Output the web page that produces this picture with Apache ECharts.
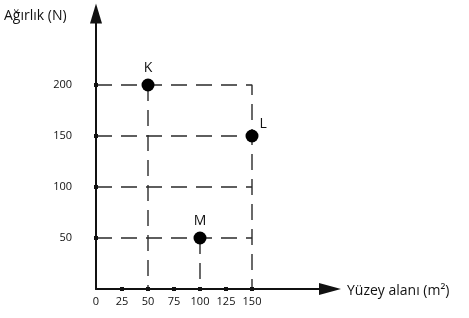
<!DOCTYPE html>
<html>
<head>
<meta charset="utf-8">
<script src="https://cdn.jsdelivr.net/npm/echarts@6/dist/echarts.min.js"></script>
<style>
  html, body { margin: 0; padding: 0; background: #fff; }
  #chart { width: 469px; height: 318px; }
</style>
</head>
<body>
<div id="chart"></div>
<script>
// tick labels / tick positions
const xTicks = [25, 50, 75, 100, 125, 150];
const yTicks = [50, 100, 150, 200];
// points: name, surface area, weight
const pointNames = ['K', 'L', 'M'];
const pointArea = [50, 150, 100];
const pointWeight = [200, 150, 50];
// dashed guide lines (polylines)
const guideLines = [
    [[0, 200], [150, 200], [150, 0]],
    [[0, 150], [150, 150]],
    [[0, 100], [150, 100]],
    [[0, 50], [150, 50]],
    [[50, 200], [50, 0]],
    [[100, 50], [100, 0]]
];

const font = '"Open Sans", "DejaVu Sans", sans-serif';
const ink = '#111';

let chart = echarts.init(document.getElementById('chart'), null, {renderer: 'canvas'});

let series = [];
guideLines.forEach(function (pts) {
    series.push({
        type: 'line',
        data: pts,
        symbol: 'none',
        silent: true,
        lineStyle: {color: '#2a2a2a', width: 1.4, type: [16, 9]},
        z: 1
    });
});
// tick marks on the axes
series.push({
    type: 'scatter',
    data: xTicks.map(v => [v, 0]).concat(yTicks.map(v => [0, v])),
    symbol: 'rect',
    symbolSize: 4,
    itemStyle: {color: ink, opacity: 1},
    silent: true,
    z: 3
});
// labelled points
const labelPos = {K: 'top', L: 'right', M: 'top'};
series.push({
    type: 'scatter',
    data: pointNames.map((n, i) => ({
        name: n,
        value: [pointArea[i], pointWeight[i]],
        label: {
            position: labelPos[n],
            offset: n === 'L' ? [-4, -12] : [0, 2]
        }
    })),
    symbolSize: 13,
    itemStyle: {color: '#000', opacity: 1},
    label: {
        show: true,
        formatter: '{b}',
        fontFamily: font,
        fontSize: 14,
        color: ink
    },
    z: 4
});

let option = {
    animation: false,
    grid: {left: 96, right: 139, top: 13.6, bottom: 29},
    xAxis: {
        type: 'value',
        min: 0,
        max: 225,
        interval: 25,
        splitLine: {show: false},
        axisTick: {show: false},
        axisLine: {
            lineStyle: {color: ink, width: 2},
            symbol: ['none', 'triangle'],
            symbolSize: [12, 22]
        },
        axisLabel: {
            margin: 7,
            fontFamily: font,
            fontSize: 11,
            color: ink,
            formatter: v => v <= 150 ? String(v) : ''
        }
    },
    yAxis: {
        type: 'value',
        min: 0,
        max: 270,
        interval: 50,
        splitLine: {show: false},
        axisTick: {show: false},
        axisLine: {
            lineStyle: {color: ink, width: 2},
            symbol: ['none', 'triangle'],
            symbolSize: [12, 20]
        },
        axisLabel: {
            margin: 24,
            fontFamily: font,
            fontSize: 11,
            color: ink,
            formatter: v => (v >= 50 && v <= 200) ? String(v) : ''
        }
    },
    graphic: [
        {
            type: 'text', left: 4, top: 9,
            style: {text: 'Ağırlık (N)', fontFamily: font, fontSize: 14, fill: ink}
        },
        {
            type: 'text', left: 347, top: 284,
            style: {text: 'Yüzey alanı (m²)', fontFamily: font, fontSize: 14, fill: ink}
        }
    ],
    series: series
};
chart.setOption(option);
</script>
</body>
</html>
